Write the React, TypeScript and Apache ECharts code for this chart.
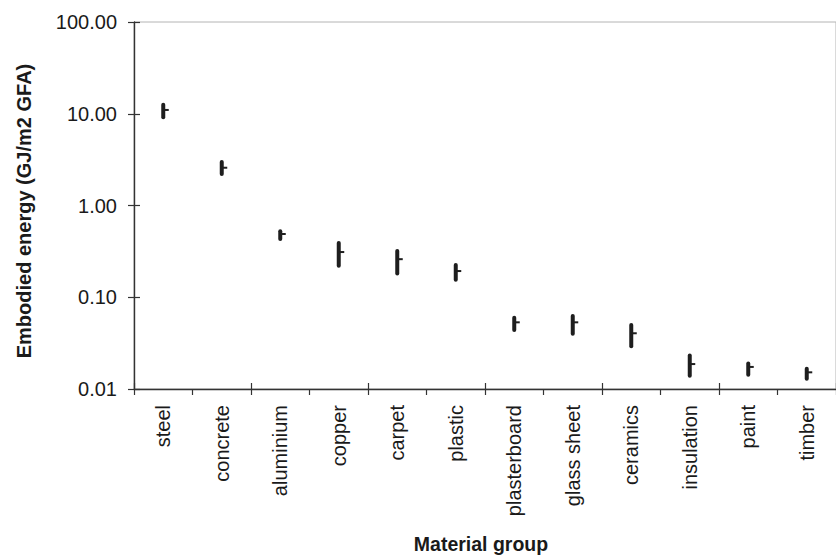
import React, { useEffect, useRef } from "react";
import * as echarts from "echarts";

const categories = [
  "steel", "concrete", "aluminium", "copper", "carpet", "plastic",
  "plasterboard", "glass sheet", "ceramics", "insulation", "paint", "timber",
];
const lowValues = [8.7, 2.1, 0.41, 0.21, 0.173, 0.148, 0.0418, 0.0381, 0.0278, 0.0133, 0.0136, 0.0123];
const highValues = [13.2, 3.13, 0.551, 0.41, 0.336, 0.236, 0.063, 0.0656, 0.0524, 0.0243, 0.0199, 0.0175];
const meanValues = [11.0, 2.58, 0.489, 0.311, 0.26, 0.193, 0.0533, 0.0533, 0.0405, 0.0187, 0.0174, 0.0152];
const yTickLabels = [0.01, 0.1, 1, 10, 100];

const INK = "#1e1e1e";

export default function App() {
  const ref = useRef<HTMLDivElement>(null);
  useEffect(() => {
    if (!ref.current) return;
    const chart = echarts.init(ref.current, null, { renderer: "svg" });
    const rows = categories.map((_, i) => [i, lowValues[i], highValues[i], meanValues[i]]);
    const yMin = yTickLabels[0];
    const yMax = yTickLabels[yTickLabels.length - 1];
    chart.setOption({
      animation: false,
      backgroundColor: "#ffffff",
      textStyle: { fontFamily: "Liberation Sans, Arial, sans-serif" },
      grid: {
        left: 134,
        right: -13,
        top: 22,
        bottom: 167,
        show: true,
        borderColor: "#b4b4b4",
        borderWidth: 1,
      },
      xAxis: [
        {
          type: "category",
          data: categories,
          position: "bottom",
          boundaryGap: true,
          axisLine: { onZero: false, lineStyle: { color: "#333", width: 1.4 } },
          axisTick: { show: true, length: 6, lineStyle: { color: "#333", width: 1.2 } },
          axisLabel: {
            rotate: 90,
            margin: 16,
            fontSize: 20,
            color: "#1a1a1a",
            fontFamily: "Liberation Sans, Arial, sans-serif",
          },
          splitLine: { show: false },
        },
        {
          type: "category",
          data: categories,
          position: "bottom",
          boundaryGap: true,
          axisLine: { show: false, onZero: false },
          axisTick: { show: true, inside: true, length: 6, lineStyle: { color: "#333", width: 1.2 } },
          axisLabel: { show: false },
          splitLine: { show: false },
        },
      ],
      yAxis: [
        {
          type: "log",
          logBase: 10,
          min: yMin,
          max: yMax,
          position: "left",
          axisLine: { show: true, lineStyle: { color: "#333", width: 1.4 } },
          axisTick: { show: true, length: 6, lineStyle: { color: "#333", width: 1.2 } },
          axisLabel: {
            margin: 17,
            fontSize: 20,
            color: "#1a1a1a",
            fontFamily: "Liberation Sans, Arial, sans-serif",
            formatter: (v: number) => Number(v).toFixed(2),
          },
          splitLine: { show: false },
          minorTick: { show: false },
        },
        {
          type: "log",
          logBase: 10,
          min: yMin,
          max: yMax,
          position: "left",
          axisLine: { show: false },
          axisTick: { show: true, inside: true, length: 6, lineStyle: { color: "#333", width: 1.2 } },
          axisLabel: { show: false },
          splitLine: { show: false },
        },
      ],
      graphic: [
        {
          type: "text",
          x: 24,
          y: 211,
          rotation: Math.PI / 2,
          style: {
            text: "Embodied energy (GJ/m2 GFA)",
            fontSize: 20,
            fontWeight: "bold",
            fill: "#1a1a1a",
            fontFamily: "Liberation Sans, Arial, sans-serif",
            align: "center",
            verticalAlign: "middle",
          },
        },
        {
          type: "text",
          x: 481,
          y: 544,
          style: {
            text: "Material group",
            fontSize: 19.5,
            fontWeight: "bold",
            fill: "#1a1a1a",
            fontFamily: "Liberation Sans, Arial, sans-serif",
            align: "center",
            verticalAlign: "middle",
          },
        },
      ],
      series: [
        {
          type: "custom",
          xAxisIndex: 0,
          yAxisIndex: 0,
          encode: { x: 0, y: [1, 2, 3] },
          data: rows,
          renderItem: (params: any, api: any) => {
            const idx = api.value(0);
            const top = api.coord([idx, api.value(2)]);
            const bot = api.coord([idx, api.value(1)]);
            const mid = api.coord([idx, api.value(3)]);
            return {
              type: "group",
              children: [
                {
                  type: "line",
                  shape: { x1: top[0], y1: top[1] + 2, x2: bot[0], y2: bot[1] - 2 },
                  style: { stroke: INK, lineWidth: 4, lineCap: "round" },
                },
                {
                  type: "line",
                  shape: { x1: mid[0], y1: mid[1], x2: mid[0] + 5.5, y2: mid[1] },
                  style: { stroke: INK, lineWidth: 2 },
                },
              ],
            };
          },
        },
      ],
    });
    return () => chart.dispose();
  }, []);
  return (
    <div
      ref={ref}
      style={{ position: "fixed", left: 0, top: 0, width: 836, height: 556, overflow: "hidden" }}
    />
  );
}
